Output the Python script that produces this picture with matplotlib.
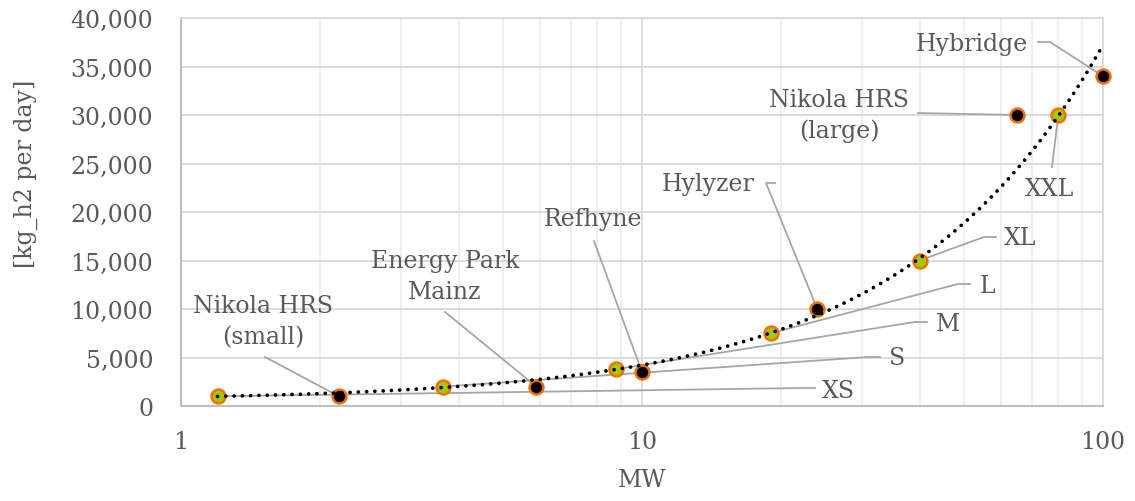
import numpy as np
import matplotlib
matplotlib.use('Agg')
import matplotlib.pyplot as plt
from matplotlib.ticker import FuncFormatter, LogLocator, NullFormatter

# ---- data ----
# size classes (green markers) -> the trendline is fitted to these
class_names = ['XS', 'S', 'M', 'L', 'XL', 'XXL']
class_mw = [1.2, 3.7, 8.8, 19, 40, 80]
class_kg = [1000, 2000, 3800, 7500, 15000, 30000]

# real projects (black markers)
proj_names = ['Nikola HRS\n(small)', 'Energy Park\nMainz', 'Refhyne', 'Hylyzer',
              'Nikola HRS\n(large)', 'Hybridge']
proj_mw = [2.2, 5.9, 10, 24, 65, 100]
proj_kg = [1000, 2000, 3500, 10000, 30000, 34000]

# ---- figure ----
W, H = 1135, 502
fig = plt.figure(figsize=(W / 100, H / 100), dpi=100)
ax = fig.add_axes([181 / W, 1 - 407 / H, (1103 - 181) / W, (407 - 19) / H])

TXT = '#595959'
FONT = 'DejaVu Serif'
FS = 17

ax.set_xscale('log')
ax.set_xlim(1, 100)
ax.set_ylim(0, 40000)
ax.set_yticks(np.arange(0, 40001, 5000))
ax.yaxis.set_major_formatter(FuncFormatter(lambda v, p: f'{int(v):,}'))
ax.xaxis.set_major_locator(LogLocator(base=10))
ax.xaxis.set_minor_locator(LogLocator(base=10, subs=np.arange(2, 10)))
ax.xaxis.set_major_formatter(FuncFormatter(lambda v, p: f'{v:g}'))
ax.xaxis.set_minor_formatter(NullFormatter())

ax.grid(True, which='major', color='#d9d9d9', lw=1.3, zorder=0)
ax.grid(True, which='minor', axis='x', color='#eeeeee', lw=1.3, zorder=0)
ax.set_axisbelow(True)
for s in ['top', 'right']:
    ax.spines[s].set_color('#d9d9d9')
    ax.spines[s].set_linewidth(1.3)
for s in ['left', 'bottom']:
    ax.spines[s].set_color('#bfbfbf')
    ax.spines[s].set_linewidth(1.5)
ax.tick_params(which='both', length=0)
ax.tick_params(axis='y', pad=20, labelsize=FS, labelcolor=TXT)
ax.tick_params(axis='x', pad=17, labelsize=FS, labelcolor=TXT)
for t in ax.get_xticklabels() + ax.get_yticklabels():
    t.set_fontfamily(FONT)

ax.set_xlabel('MW', fontsize=FS, color=TXT, family=FONT)
ax.set_ylabel('[kg_h2 per day]', fontsize=FS, color=TXT, family=FONT)
ax.xaxis.set_label_coords(0.5, -0.16)
ax.yaxis.set_label_coords(-0.155, 0.6)

# markers
ax.plot(class_mw, class_kg, 'o', ms=10, mfc='#a6c800', mec='#f07000', mew=1.8,
        zorder=4, clip_on=False)
ax.plot(proj_mw, proj_kg, 'o', ms=10, mfc='black', mec='#f07000', mew=1.8,
        zorder=4, clip_on=False)

# linear trendline on the size classes, shown up to 100 MW
coef = np.polyfit(class_mw, class_kg, 1)
tx = np.logspace(np.log10(class_mw[0]), 2, 300)
ax.plot(tx, np.polyval(coef, tx), color='black', lw=2.7, ls=(0, (0.01, 2.2)),
        dash_capstyle='round', zorder=5, clip_on=False)

# ---- data labels with leader lines (positions in image pixels, y from top) ----
def px2data(x, y):
    return ax.transData.inverted().transform((x, H - y))

# (text x, text y, ha, leader elbow points)
class_lbl = [
    (822, 392, 'left', [(815, 389), (803, 389)]),
    (889, 359, 'left', [(880, 358), (868, 358)]),
    (936, 325, 'left', [(927, 323), (915, 323)]),
    (980, 287, 'left', [(970, 285), (958, 285)]),
    (1004, 239, 'left', [(996, 238), (984, 238)]),
    (1050, 190, 'center', [(1052, 168)]),
]
proj_lbl = [
    (263, 322, 'center', [(265, 358)]),
    (445, 277, 'center', [(445, 313)]),
    (593, 220, 'center', [(594, 242)]),
    (755, 185, 'right', [(775, 184), (766, 184)]),
    (839, 116, 'center', [(918, 114)]),
    (1028, 45, 'right', [(1038, 43), (1050, 43)]),
]

def draw_labels(names, xs, ys, specs):
    for name, x, y, (tx_, ty_, ha, elbow) in zip(names, xs, ys, specs):
        pts = [px2data(*p) for p in elbow] + [(x, y)]
        ax.plot([p[0] for p in pts], [p[1] for p in pts], color='#a6a6a6',
                lw=1.3, zorder=3, clip_on=False)
        lx, ly = px2data(tx_, ty_)
        ax.text(lx, ly, name, ha=ha, va='center', fontsize=FS, color=TXT,
                family=FONT, linespacing=1.45, zorder=6)

draw_labels(class_names, class_mw, class_kg, class_lbl)
draw_labels(proj_names, proj_mw, proj_kg, proj_lbl)

fig.savefig('out.png', dpi=100, facecolor='white')
